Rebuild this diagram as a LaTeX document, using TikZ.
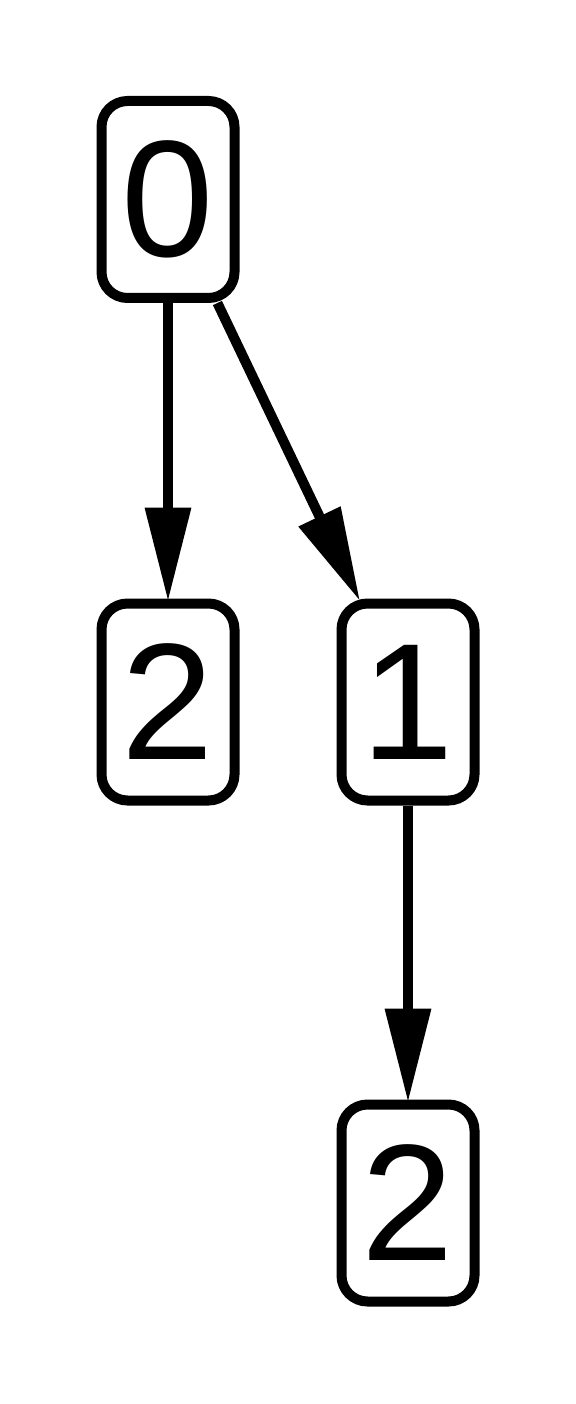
\documentclass[tikz,border=0pt]{standalone}
\usepackage{fontspec}
\setmainfont{Liberation Sans}
\usetikzlibrary{arrows.meta}
\begin{document}
\begin{tikzpicture}[x=1pt,y=-1pt,
  treenode/.style={draw, line width=10pt, rounded corners=26pt, minimum width=133pt, minimum height=197pt, inner sep=0pt, font=\fontsize{166}{166}\selectfont},
  treeedge/.style={line width=10pt, -{Triangle[length=94pt,width=44pt]}, shorten >=-3pt}]
\useasboundingbox (0,0) rectangle (575,1404);
\node[treenode] (n0) at (168,199.5) {0};
\node[treenode] (n2a) at (168,702) {2};
\node[treenode] (n1) at (408,702) {1};
\node[treenode] (n2b) at (408,1203) {2};
\draw[treeedge] (n0) -- (n2a);
\draw[treeedge] (n0) -- (n1);
\draw[treeedge] (n1) -- (n2b);
\end{tikzpicture}
\end{document}
